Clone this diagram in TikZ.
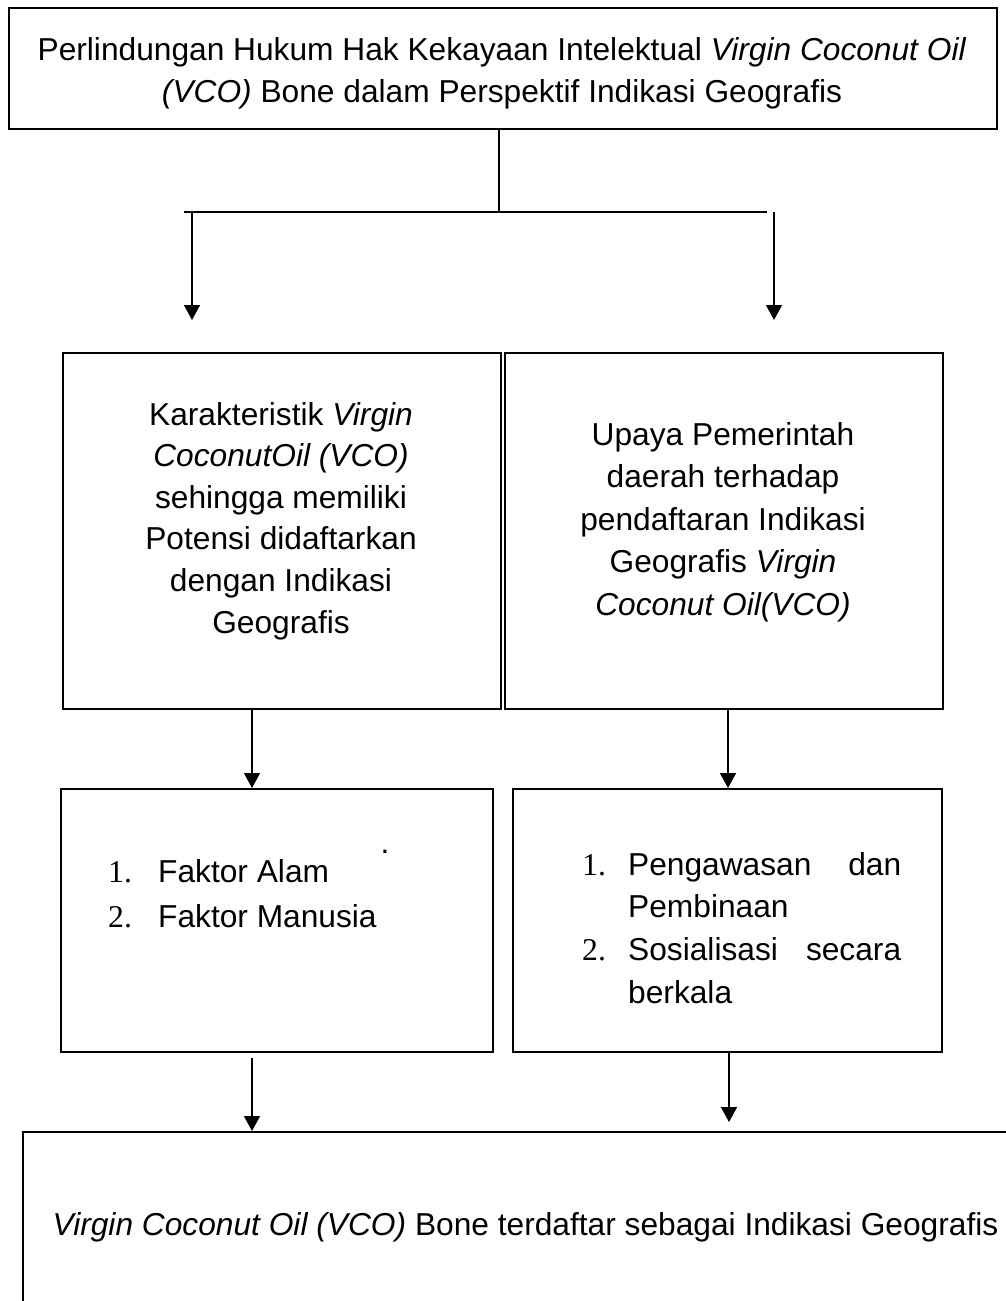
\documentclass[tikz,border=0pt]{standalone}
\usepackage{fontspec}
\setmainfont{Liberation Sans}
\newfontfamily\numfont{Liberation Serif}
\usetikzlibrary{arrows.meta}
\begin{document}
\begin{tikzpicture}[x=1pt,y=-1pt,
  box/.style={draw, line width=2.4pt, inner sep=0pt, anchor=north west},
  txt/.style={inner sep=0pt, anchor=base},
  conn/.style={line width=1.5pt},
  arr/.style={conn, -{Triangle[width=16pt,length=15pt]}}]
\useasboundingbox (0,0) rectangle (1006,1301);
\clip (0,0) rectangle (1006,1301);
% boxes
\node[box, minimum width=988, minimum height=121] (top) at (8,7) {};
\node[box, minimum width=438, minimum height=356] (karak) at (62,352) {};
\node[box, minimum width=438, minimum height=356] (upaya) at (504,352) {};
\node[box, minimum width=432, minimum height=263] (faktor) at (60,788) {};
\node[box, minimum width=429, minimum height=263] (upayalist) at (512,788) {};
\node[box, minimum width=1008, minimum height=220] (bottom) at (22,1131) {};
% texts
\node[txt, font=\fontsize{31.7}{42}\selectfont] (toptext) at (502,60)
  {\begin{tabular}[t]{@{}c@{}}Perlindungan Hukum Hak Kekayaan Intelektual \textit{Virgin Coconut Oil}\\ \textit{(VCO)} Bone dalam Perspektif Indikasi Geografis\end{tabular}};
\node[txt, font=\fontsize{31.7}{41.6}\selectfont] (karaktext) at (281,425)
  {\begin{tabular}[t]{@{}c@{}}Karakteristik \textit{Virgin}\\ \textit{CoconutOil (VCO)}\\ sehingga memiliki\\ Potensi didaftarkan\\ dengan Indikasi\\ Geografis\end{tabular}};
\node[txt, font=\fontsize{31.7}{42.5}\selectfont] (upayatext) at (723,445)
  {\begin{tabular}[t]{@{}c@{}}Upaya Pemerintah\\ daerah terhadap\\ pendaftaran Indikasi\\ Geografis \textit{Virgin}\\ \textit{Coconut Oil(VCO)}\end{tabular}};
\node[txt, anchor=base west, font=\fontsize{31.7}{45}\selectfont] (faktortext) at (108,882)
  {\begin{tabular}[t]{@{}l@{}l@{}}\makebox[50pt][l]{\numfont 1.} & Faktor Alam\\ \makebox[50pt][l]{\numfont 2.} & Faktor Manusia\end{tabular}};
\node[txt, font=\fontsize{31.7}{42}\selectfont] (dot) at (385,853) {.};
\node[txt, anchor=base west, font=\fontsize{31.7}{42.7}\selectfont] (listtext) at (582,875)
  {\begin{tabular}[t]{@{}l@{}l@{}}\makebox[46pt][l]{\numfont 1.} & \makebox[273pt]{Pengawasan\hfill dan}\\ & Pembinaan\\ \makebox[46pt][l]{\numfont 2.} & \makebox[273pt]{Sosialisasi\hfill secara}\\ & berkala\end{tabular}};
\node[txt, font=\fontsize{31.7}{42}\selectfont] (bottext) at (525.5,1235)
  {\textit{Virgin Coconut Oil (VCO)} Bone terdaftar sebagai Indikasi Geografis};
% connectors
\coordinate (j) at (499,212);
\coordinate (hl) at (184,212);
\coordinate (hr) at (767,212);
\coordinate (la) at (192,320);
\coordinate (ra) at (774,320);
\coordinate (rb) at (729,1122);
\draw[conn] (top.south -| j) -- (j);
\draw[conn] (hl) -- (hr);
\draw[arr] (la |- hl) -- (la);
\draw[arr] (ra |- hr) -- (ra);
\draw[arr] (karak.south -| 252,0) -- (faktor.north -| 252,0);
\draw[arr] (upaya.south -| 728,0) -- (upayalist.north -| 728,0);
\draw[arr] (faktor.south -| 252,0) ++(0,5) -- (bottom.north -| 252,0);
\draw[arr] (upayalist.south -| rb) -- (rb);
\end{tikzpicture}
\end{document}
